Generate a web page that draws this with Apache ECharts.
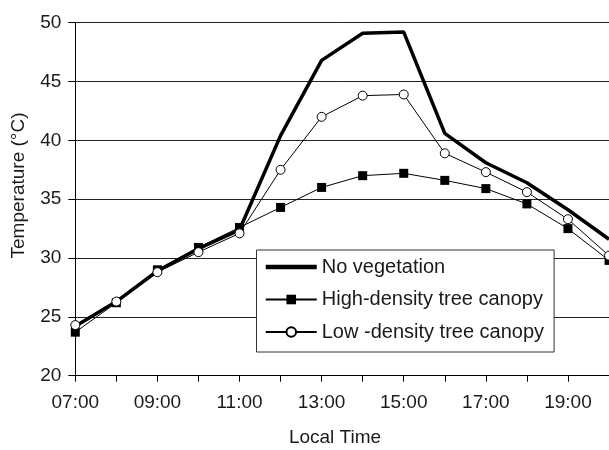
<!DOCTYPE html>
<html>
<head>
<meta charset="utf-8">
<script src="https://cdn.jsdelivr.net/npm/echarts@6/dist/echarts.min.js"></script>
<style>
  html, body { margin: 0; padding: 0; background: #fff; }
  #main { width: 609px; height: 450px; }
</style>
</head>
<body>
<div id="main"></div>
<script>
// hourly readings, 07:00 - 20:00 (last point falls just past the right edge)
const hours = ['07:00', '08:00', '09:00', '10:00', '11:00', '12:00', '13:00',
  '14:00', '15:00', '16:00', '17:00', '18:00', '19:00', '20:00']
const noVegetation = [24.2, 26.3, 28.9, 30.8, 32.4, 40.4, 46.8, 49.1, 49.2, 40.6, 38.1, 36.4, 34.1, 31.6]
const highDensity = [23.7, 26.2, 29.0, 30.9, 32.6, 34.3, 36.0, 37.0, 37.2, 36.6, 35.9, 34.6, 32.5, 29.8]
const lowDensity = [24.3, 26.3, 28.8, 30.5, 32.1, 37.5, 42.0, 43.8, 43.9, 38.9, 37.3, 35.6, 33.3, 30.2]
const seriesNames = ['No vegetation', 'High-density tree canopy', 'Low -density tree canopy']

const font = 'Liberation Sans, Arial, sans-serif'
const ink = '#1a1a1a'

const chart = echarts.init(document.getElementById('main'))

const option = {
  animation: false,
  backgroundColor: '#fff',
  grid: {
    left: 75.3,
    right: -5.8,
    top: 22.7,
    bottom: 74.3
  },
  xAxis: {
    type: 'category',
    boundaryGap: false,
    data: hours,
    axisLine: { lineStyle: { color: '#000', width: 1 } },
    axisTick: { show: true, interval: 0, length: 6, lineStyle: { color: '#000' } },
    axisLabel: {
      interval: 1,
      margin: 18,
      color: ink,
      fontSize: 19,
      fontFamily: font
    },
    splitLine: { show: false }
  },
  yAxis: {
    type: 'value',
    min: 20,
    max: 50,
    interval: 5,
    axisLine: { show: true, lineStyle: { color: '#000', width: 1 } },
    axisTick: { show: true, length: 7, lineStyle: { color: '#000' } },
    axisLabel: {
      margin: 14,
      color: ink,
      fontSize: 19,
      fontFamily: font
    },
    splitLine: { show: true, lineStyle: { color: '#222', width: 1 } }
  },
  legend: {
    orient: 'vertical',
    left: 256.5,
    top: 250,
    padding: [7, 10, 10, 7],
    itemWidth: 51,
    itemHeight: 12,
    itemGap: 12.5,
    backgroundColor: '#fff',
    borderColor: '#333',
    borderWidth: 1,
    borderRadius: 0,
    textStyle: {
      color: ink,
      fontSize: 20,
      lineHeight: 20,
      fontFamily: font
    },
    data: [
      // thick plain line, no marker
      { name: seriesNames[0], itemStyle: { opacity: 0 }, lineStyle: { width: 4.5, color: '#000' } },
      { name: seriesNames[1] },
      { name: seriesNames[2] }
    ]
  },
  graphic: [
    {
      type: 'text',
      x: 19,
      y: 185.5,
      rotation: Math.PI / 2,
      style: {
        text: 'Temperature (°C)',
        fontSize: 19,
        fontFamily: font,
        fill: ink,
        align: 'center',
        verticalAlign: 'middle'
      }
    },
    {
      type: 'text',
      x: 335,
      y: 438,
      style: {
        text: 'Local Time',
        fontSize: 19,
        fontFamily: font,
        fill: ink,
        align: 'center',
        verticalAlign: 'middle'
      }
    }
  ],
  series: [
    {
      name: seriesNames[0],
      type: 'line',
      symbol: 'none',
      lineStyle: { color: '#000', width: 3.5 },
      itemStyle: { color: '#000' },
      data: noVegetation
    },
    {
      name: seriesNames[1],
      type: 'line',
      symbol: 'rect',
      symbolSize: 9,
      lineStyle: { color: '#000', width: 1 },
      itemStyle: { color: '#000' },
      data: highDensity
    },
    {
      name: seriesNames[2],
      type: 'line',
      symbol: 'circle',
      symbolSize: 9,
      lineStyle: { color: '#000', width: 1 },
      itemStyle: { color: '#fff', borderColor: '#000', borderWidth: 1 },
      data: lowDensity
    }
  ]
}

chart.setOption(option)
</script>
</body>
</html>
